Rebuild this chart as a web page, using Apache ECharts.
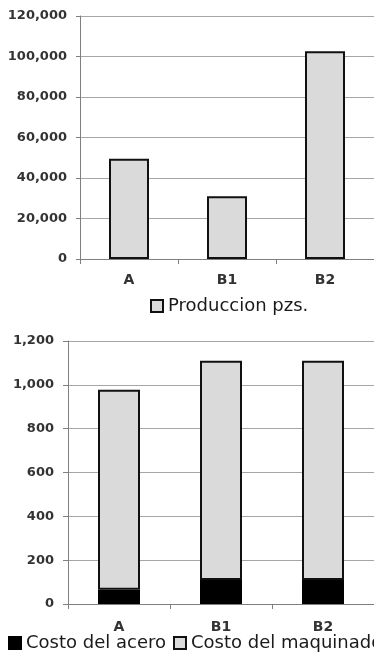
<!DOCTYPE html>
<html>
<head>
<meta charset="utf-8">
<script src="https://cdn.jsdelivr.net/npm/echarts@6/dist/echarts.min.js"></script>
<style>
html,body{margin:0;padding:0;background:#fff;}
#chart{width:374px;height:662px;}
</style>
</head>
<body>
<div id="chart"></div>
<script>
var categories = ['A', 'B1', 'B2'];
var produccion = [49500, 31000, 102600];
var costoAcero = [65, 110, 110];
var costoMaquinado = [912, 1000, 1000];
var prodAxis = {min: 0, max: 120000, interval: 20000};
var costAxis = {min: 0, max: 1200, interval: 200};

var FONT = 'DejaVu Sans';
var fmt = function (v) { return Number(v).toLocaleString('en-US'); };
var gridLine = {show: true, lineStyle: {color: '#a6a6a6', width: 1}};
var axisLine = {show: true, lineStyle: {color: '#7f7f7f', width: 1}};
var lightFill = '#dadada';
var labelStyle = {fontSize: 13, fontWeight: 'bold', color: '#333', fontFamily: FONT};

var chart = echarts.init(document.getElementById('chart'));
chart.setOption({
  animation: false,
  backgroundColor: '#ffffff',
  textStyle: {fontFamily: FONT},
  grid: [
    {left: 80, top: 16, width: 296, height: 243},
    {left: 68, top: 341, width: 311, height: 263}
  ],
  legend: [
    {
      data: ['Produccion pzs.'],
      left: 145, top: 292, width: 600,
      itemWidth: 12, itemHeight: 12, itemGap: 10,
      icon: 'rect',
      textStyle: {fontFamily: FONT, fontSize: 18, color: '#1a1a1a'}
    },
    {
      data: ['Costo del acero', 'Costo del maquinado'],
      left: 3, top: 629, width: 800,
      itemWidth: 12, itemHeight: 12, itemGap: 7,
      icon: 'rect',
      textStyle: {fontFamily: FONT, fontSize: 18, color: '#1a1a1a'}
    }
  ],
  xAxis: [
    {
      type: 'category', gridIndex: 0, data: categories,
      axisLine: axisLine,
      axisTick: {show: true, length: 5, lineStyle: {color: '#7f7f7f'}},
      axisLabel: Object.assign({margin: 14}, labelStyle, {fontSize: 14}),
      splitLine: {show: false}
    },
    {
      type: 'category', gridIndex: 1, data: categories,
      axisLine: axisLine,
      axisTick: {show: true, length: 5, lineStyle: {color: '#7f7f7f'}},
      axisLabel: Object.assign({margin: 16}, labelStyle, {fontSize: 14}),
      splitLine: {show: false}
    }
  ],
  yAxis: [
    {
      type: 'value', gridIndex: 0,
      min: prodAxis.min, max: prodAxis.max, interval: prodAxis.interval,
      axisLine: axisLine,
      axisTick: {show: true, length: 4, lineStyle: {color: '#7f7f7f'}},
      axisLabel: Object.assign({margin: 13, formatter: fmt}, labelStyle),
      splitLine: gridLine
    },
    {
      type: 'value', gridIndex: 1,
      min: costAxis.min, max: costAxis.max, interval: costAxis.interval,
      axisLine: axisLine,
      axisTick: {show: true, length: 5, lineStyle: {color: '#7f7f7f'}},
      axisLabel: Object.assign({margin: 14, formatter: fmt}, labelStyle),
      splitLine: gridLine
    }
  ],
  series: [
    {
      name: 'Produccion pzs.', type: 'bar', xAxisIndex: 0, yAxisIndex: 0,
      data: produccion, barWidth: 40,
      itemStyle: {color: lightFill, borderColor: '#111', borderWidth: 2}
    },
    {
      name: 'Costo del acero', type: 'bar', xAxisIndex: 1, yAxisIndex: 1,
      stack: 'costo', data: costoAcero, barWidth: 42,
      itemStyle: {color: '#000000', borderColor: '#000000', borderWidth: 2}
    },
    {
      name: 'Costo del maquinado', type: 'bar', xAxisIndex: 1, yAxisIndex: 1,
      stack: 'costo', data: costoMaquinado, barWidth: 42,
      itemStyle: {color: lightFill, borderColor: '#111', borderWidth: 2}
    }
  ]
});
</script>
</body>
</html>
